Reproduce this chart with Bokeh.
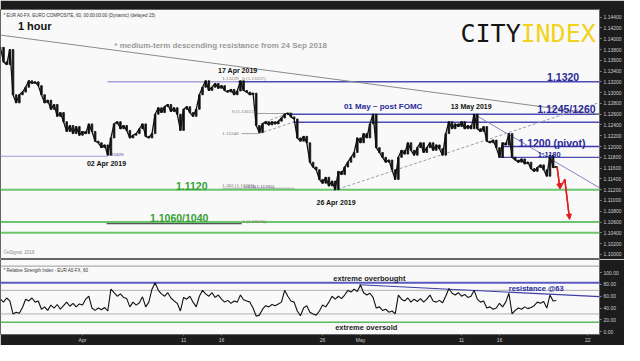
from bokeh.plotting import figure
from bokeh.layouts import column
from bokeh.models import FixedTicker, NumeralTickFormatter, Label, Arrow, NormalHead, Range1d
from bokeh.embed import file_html
from bokeh.resources import INLINE

# ---------------- data ----------------
# time axis: trading-day index (0 = 21 Mar 2019), one sample every 6 hours
start_day = 0.5
step_days = 0.25

prices = [
    1.1384, 1.1357, 1.1352, 1.1380, 1.1296, 1.1281, 1.1296, 1.1301, 1.1310, 1.1322,
    1.1317, 1.1320, 1.1313, 1.1296, 1.1281, 1.1286, 1.1269, 1.1278, 1.1256, 1.1263,
    1.1246, 1.1228, 1.1239, 1.1224, 1.1237, 1.1221, 1.1228, 1.1224, 1.1242, 1.1228,
    1.1210, 1.1207, 1.1198, 1.1203, 1.1184, 1.1216, 1.1242, 1.1246, 1.1233, 1.1239,
    1.1230, 1.1216, 1.1221, 1.1224, 1.1233, 1.1242, 1.1219, 1.1216, 1.1224, 1.1260,
    1.1272, 1.1263, 1.1274, 1.1278, 1.1265, 1.1272, 1.1260, 1.1230, 1.1269, 1.1274,
    1.1263, 1.1256, 1.1269, 1.1296, 1.1310, 1.1322, 1.1304, 1.1310, 1.1317, 1.1308,
    1.1313, 1.1304, 1.1301, 1.1306, 1.1296, 1.1303, 1.1322, 1.1304, 1.1301, 1.1296,
    1.1299, 1.1239, 1.1226, 1.1242, 1.1246, 1.1240, 1.1246, 1.1242, 1.1247, 1.1253,
    1.1260, 1.1262, 1.1255, 1.1251, 1.1216, 1.1210, 1.1219, 1.1207, 1.1171, 1.1162,
    1.1157, 1.1139, 1.1132, 1.1143, 1.1127, 1.1136, 1.1120, 1.1154, 1.1148, 1.1162,
    1.1171, 1.1180, 1.1189, 1.1216, 1.1207, 1.1224, 1.1216, 1.1242, 1.1260, 1.1198,
    1.1189, 1.1180, 1.1171, 1.1175, 1.1157, 1.1139, 1.1180, 1.1193, 1.1186, 1.1207,
    1.1193, 1.1184, 1.1198, 1.1207, 1.1189, 1.1198, 1.1207, 1.1193, 1.1203, 1.1196,
    1.1184, 1.1224, 1.1246, 1.1233, 1.1242, 1.1237, 1.1246, 1.1233, 1.1239, 1.1233,
    1.1260, 1.1233, 1.1228, 1.1237, 1.1210, 1.1207, 1.1212, 1.1198, 1.1180, 1.1207,
    1.1203, 1.1224, 1.1180, 1.1175, 1.1171, 1.1177, 1.1168, 1.1171, 1.1159, 1.1154,
    1.1161, 1.1166, 1.1157, 1.1145, 1.1184, 1.1161, 1.1163]

rsi = [
    55, 50, 57, 52, 30, 33, 31, 41, 55, 52,
    57, 50, 52, 38, 42, 36, 45, 40, 46, 38,
    44, 50, 43, 48, 42, 47, 45, 55, 60, 40,
    36, 40, 37, 41, 35, 72, 66, 60, 64, 58,
    56, 42, 50, 45, 49, 59, 42, 50, 72, 83,
    70, 64, 60, 66, 57, 52, 48, 35, 58, 55,
    60, 50, 42, 60, 70, 64, 60, 66, 58, 62,
    55, 50, 53, 48, 52, 50, 62, 54, 52, 50,
    40, 26, 28, 38, 44, 42, 46, 44, 47, 50,
    70, 60, 52, 50, 35, 27, 40, 44, 33, 30,
    28, 35, 45, 42, 50, 60, 55, 60, 56, 62,
    70, 67, 72, 68, 79, 66, 62, 65, 58, 40,
    42, 36, 38, 33, 35, 30, 62, 55, 52, 57,
    50, 55, 51, 56, 50, 55, 62, 52, 50, 53,
    49, 60, 73, 65, 62, 66, 60, 63, 58, 60,
    70, 55, 50, 52, 40, 42, 38, 40, 48, 42,
    50, 65, 30, 36, 40, 38, 42, 39, 41, 44,
    50, 48, 51, 40, 62, 52, 52.67]

price_ticks = [1.100, 1.102, 1.104, 1.106, 1.108, 1.110, 1.112, 1.114, 1.116, 1.118,
               1.120, 1.122, 1.124, 1.126, 1.128, 1.130, 1.132, 1.134, 1.136, 1.138,
               1.140, 1.142, 1.144]
rsi_ticks = [0, 20, 40, 60, 80, 100]
date_tick_days = [7, 15, 18, 26, 29, 37, 40, 47]
date_tick_labels = ["Apr", "11", "16", "26", "May", "11", "16", "22"]

last_price = 1.11634
last_rsi = 52.67

# horizontal levels: price, start day, end day
level_price = [1.1320, 1.1320, 1.12613, 1.1260, 1.1245, 1.1200, 1.1180, 1.1182, 1.1224,
               1.11227, 1.10575, 1.1120, 1.1060, 1.1040]
level_start = [8.98, 19.3, 20.74, 23.18, 23.64, 40.2, 39.98, 0.51, 19.6,
               18.07, 8.9, 0.51, 0.51, 0.51]
level_end = [19.3, 47.92, 23.18, 47.92, 47.92, 47.92, 47.92, 8.98, 20.97,
             23.8, 19.6, 47.92, 47.92, 47.92]
level_color = ["#a4a4da", "#4b4bb4", "#a0a0a0", "#4b4bb4", "#4b4bb4", "#3a3aa8", "#4b4bb4",
               "#9a9ad0", "#a0a0a0", "#aaaaaa", "#555555", "#6cc46c", "#6cc46c", "#6cc46c"]
level_width = [1.5, 1.5, 1, 1.5, 1.5, 1.5, 1.2, 1, 1, 1, 1.6, 2, 2, 2]

# trend lines: (day0, price0) -> (day1, price1)
trend_x0 = [0.51, 37.99]
trend_y0 = [1.14067, 1.1260]
trend_x1 = [47.92, 47.92]
trend_y1 = [1.12598, 1.11235]
trend_color = ["#8a8a8a", "#8484bc"]

dash_x0 = [21.12, 20.97, 26.85]
dash_y0 = [1.12421, 1.1224, 1.11182]
dash_x1 = [23.41, 23.95, 47.84]
dash_y1 = [1.12634, 1.12474, 1.12811]

forecast_days = [44.56, 44.79, 45.17, 45.55]
forecast_prices = [1.11625, 1.11218, 1.11395, 1.10651]

rsi_level = [83, 70, 30, 16, 111]
rsi_level_color = ["#5a5ac0", "#b0b0b0", "#b0b0b0", "#5cb85c", "#9a9a9a"]
rsi_level_width = [2, 1, 1, 1.5, 1]
rsi_res_days = [28.91, 47.92]
rsi_res_vals = [79.4, 59.2]

# ---------------- figures ----------------
X0, X1 = 0.51, 47.92
RB = 21
FONT = "Liberation Sans"

p = figure(width=624, height=259, x_range=Range1d(X0, X1), y_range=Range1d(1.09905, 1.14542),
           output_backend="svg", toolbar_location=None, x_axis_location=None,
           y_axis_location="right", min_border_left=0, min_border_right=RB,
           min_border_top=9, min_border_bottom=0, background_fill_color="#f9f9f9",
           border_fill_color="#1c1c1c", outline_line_color="#666666")
p.grid.visible = False
ya = p.yaxis[0]
ya.ticker = FixedTicker(ticks=price_ticks)
ya.formatter = NumeralTickFormatter(format="0.00000")
ya.major_label_text_font_size = "5px"
ya.major_label_text_color = "#cfcfcf"
ya.major_label_text_font = FONT
ya.major_label_standoff = 2
ya.axis_line_color = None
ya.major_tick_line_color = "#888888"
ya.major_tick_out = 2
ya.major_tick_in = 0
ya.minor_tick_line_color = None

# level lines
p.segment(x0=level_start, x1=level_end, y0=level_price, y1=level_price,
          line_color=level_color, line_width=level_width)
p.segment(x0=trend_x0, y0=trend_y0, x1=trend_x1, y1=trend_y1, line_color=trend_color, line_width=1)
p.segment(x0=dash_x0, y0=dash_y0, x1=dash_x1, y1=dash_y1, line_color="#9a9ab4",
          line_width=1, line_dash="3 2")

# price (candles built from consecutive closes)
xs = [start_day + step_days * i for i in range(len(prices))]
opens = [prices[0]] + prices[:-1]
tops = [max(o, c) for o, c in zip(opens, prices)]
bots = [min(o, c) for o, c in zip(opens, prices)]
p.vbar(x=xs, top=tops, bottom=bots, width=0.13, fill_color="#111111", line_color="#111111", line_width=0.8)
p.line(xs, prices, line_color="#111111", line_width=1.3)

# forecast arrow
p.line(forecast_days, forecast_prices, line_color="#e31b1b", line_width=1.4)
p.add_layout(Arrow(end=NormalHead(size=5, fill_color="#e31b1b", line_color="#e31b1b"),
                   x_start=forecast_days[0], y_start=forecast_prices[0],
                   x_end=forecast_days[1], y_end=forecast_prices[1],
                   line_color="#e31b1b", line_width=1.4))
p.add_layout(Arrow(end=NormalHead(size=5, fill_color="#e31b1b", line_color="#e31b1b"),
                   x_start=forecast_days[2], y_start=forecast_prices[2],
                   x_end=forecast_days[3], y_end=forecast_prices[3],
                   line_color="#e31b1b", line_width=1.4))


def lab(fig, x, y, text, size, color, bold=True, align="left", font=FONT, **kw):
    fig.add_layout(Label(x=x, y=y, text=text, text_font=font, text_font_size=f"{size}px",
                         text_color=color, text_font_style="bold" if bold else "normal",
                         text_align=align, text_baseline="middle", **kw))


BLUE = "#2a2a9a"
GREEN = "#33a033"
TINY = "#7a6a5a"

lab(p, 0.74, 1.14429, "* EUR A0-FX, EURO COMPOSITE, 60, 00:00:00:00 (Dynamic) (delayed 15)", 4.5, "#333333", bold=False)
lab(p, 1.89, 1.14233, "1 hour", 11, "#111111")
lab(p, 9.52, 1.13879, "* medium-term descending resistance from 24 Sep 2018", 8, "#9a9a9a")
lab(p, 36.92, 1.14103, "CITY", 25, "#151515", bold=False, font="DejaVu Sans Mono")
lab(p, 36.92, 1.14103, "INDEX", 25, "#f2d21b", bold=False, font="DejaVu Sans Mono", x_offset=60)
lab(p, 19.29, 1.13418, "17 Apr 2019", 7, "#111111", align="center")
lab(p, 18.07, 1.13258, "1.13229 , 0 (1.13237)", 5, TINY, bold=False, font="Liberation Serif")
lab(p, 18.83, 1.12655, "0 (1.12613)", 5, TINY, bold=False, font="Liberation Serif")
lab(p, 18.07, 1.12247, "1.12240", 5, TINY, bold=False, font="Liberation Serif")
lab(p, 8.98, 1.11856, "1.11820", 5, "#33338a", bold=False, font="Liberation Serif")
lab(p, 8.91, 1.11679, "02 Apr 2019", 7, "#111111", align="center")
lab(p, 27.69, 1.12743, "01 May ~ post FOMC", 8, BLUE)
lab(p, 37.76, 1.12743, "13 May 2019", 7, "#111111", align="center")
lab(p, 46.31, 1.13293, "1.1320", 10.5, BLUE, align="right")
lab(p, 47.61, 1.12690, "1.1245/1260", 10.5, BLUE, align="right")
lab(p, 41.5, 1.12069, "1.1200 (pivot)", 10.5, BLUE)
lab(p, 43.03, 1.11856, "1:1180", 7.5, BLUE)
lab(p, 14.40, 1.11271, "1.1120", 10.5, GREEN)
lab(p, 12.34, 1.10668, "1.1060/1040", 10.5, GREEN)
lab(p, 18.07, 1.11271, "1.382 (1.11227)", 5, TINY, bold=False, font="Liberation Serif")
lab(p, 19.75, 1.11253, "1.618(1.11203)", 5, "#333366", bold=False, font="Liberation Serif")
lab(p, 19.67, 1.10615, "1 (1.10575)", 5, TINY, bold=False, font="Liberation Serif")
lab(p, 27.08, 1.10969, "26 Apr 2019", 7, "#111111", align="center")
lab(p, 0.74, 1.10029, "\u00a9eSignal, 2019", 4.5, "#888888", bold=False)
p.add_layout(Label(x=X1, y=last_price, x_offset=1, text=f"{last_price:.5f}", text_font=FONT,
                   text_font_size="5px", text_color="#000000", text_baseline="middle",
                   background_fill_color="#ffffff"))

# ---------------- RSI panel ----------------
r = figure(width=624, height=86, x_range=p.x_range, y_range=Range1d(-4.8, 122.2),
           output_backend="svg", toolbar_location=None, y_axis_location="right",
           min_border_left=0, min_border_right=RB, min_border_top=0, min_border_bottom=9,
           background_fill_color="#f9f9f9", border_fill_color="#1c1c1c",
           outline_line_color="#666666")
r.grid.visible = False
ra = r.yaxis[0]
ra.ticker = FixedTicker(ticks=rsi_ticks)
ra.formatter = NumeralTickFormatter(format="0.00")
ra.major_label_text_font_size = "5px"
ra.major_label_text_color = "#cfcfcf"
ra.major_label_text_font = FONT
ra.major_label_standoff = 2
ra.axis_line_color = None
ra.major_tick_line_color = "#888888"
ra.major_tick_out = 2
ra.major_tick_in = 0
ra.minor_tick_line_color = None
xa = r.xaxis[0]
xa.ticker = FixedTicker(ticks=date_tick_days)
xa.major_label_overrides = {d: t for d, t in zip(date_tick_days, date_tick_labels)}
xa.major_label_text_font_size = "5px"
xa.major_label_text_color = "#cfcfcf"
xa.major_label_text_font = FONT
xa.major_label_standoff = 1
xa.axis_line_color = None
xa.major_tick_line_color = "#888888"
xa.major_tick_out = 1
xa.major_tick_in = 0
xa.minor_tick_line_color = None

r.segment(x0=[X0] * len(rsi_level), x1=[X1] * len(rsi_level), y0=rsi_level, y1=rsi_level,
          line_color=rsi_level_color, line_width=rsi_level_width)
r.line(rsi_res_days, rsi_res_vals, line_color="#3d3da8", line_width=1.2)
r.line(xs, rsi, line_color="#111111", line_width=1.1)

lab(r, 0.74, 103.2, "* Relative Strength Index - EUR A0-FX, 60", 4.5, "#333333", bold=False)
lab(r, 26.85, 90.5, "extreme overbought", 7.5, "#222222")
lab(r, 40.74, 73.7, "resistance @63", 7.5, BLUE)
lab(r, 27.0, 6.3, "extreme oversold", 7.5, "#222222")
r.add_layout(Label(x=X1, y=last_rsi, x_offset=2, text=f"{last_rsi:.2f}", text_font=FONT,
                   text_font_size="5px", text_color="#bbbbbb", text_baseline="middle"))

layout = column(p, r, spacing=0)
open("out.html", "w").write(file_html(layout, INLINE))
